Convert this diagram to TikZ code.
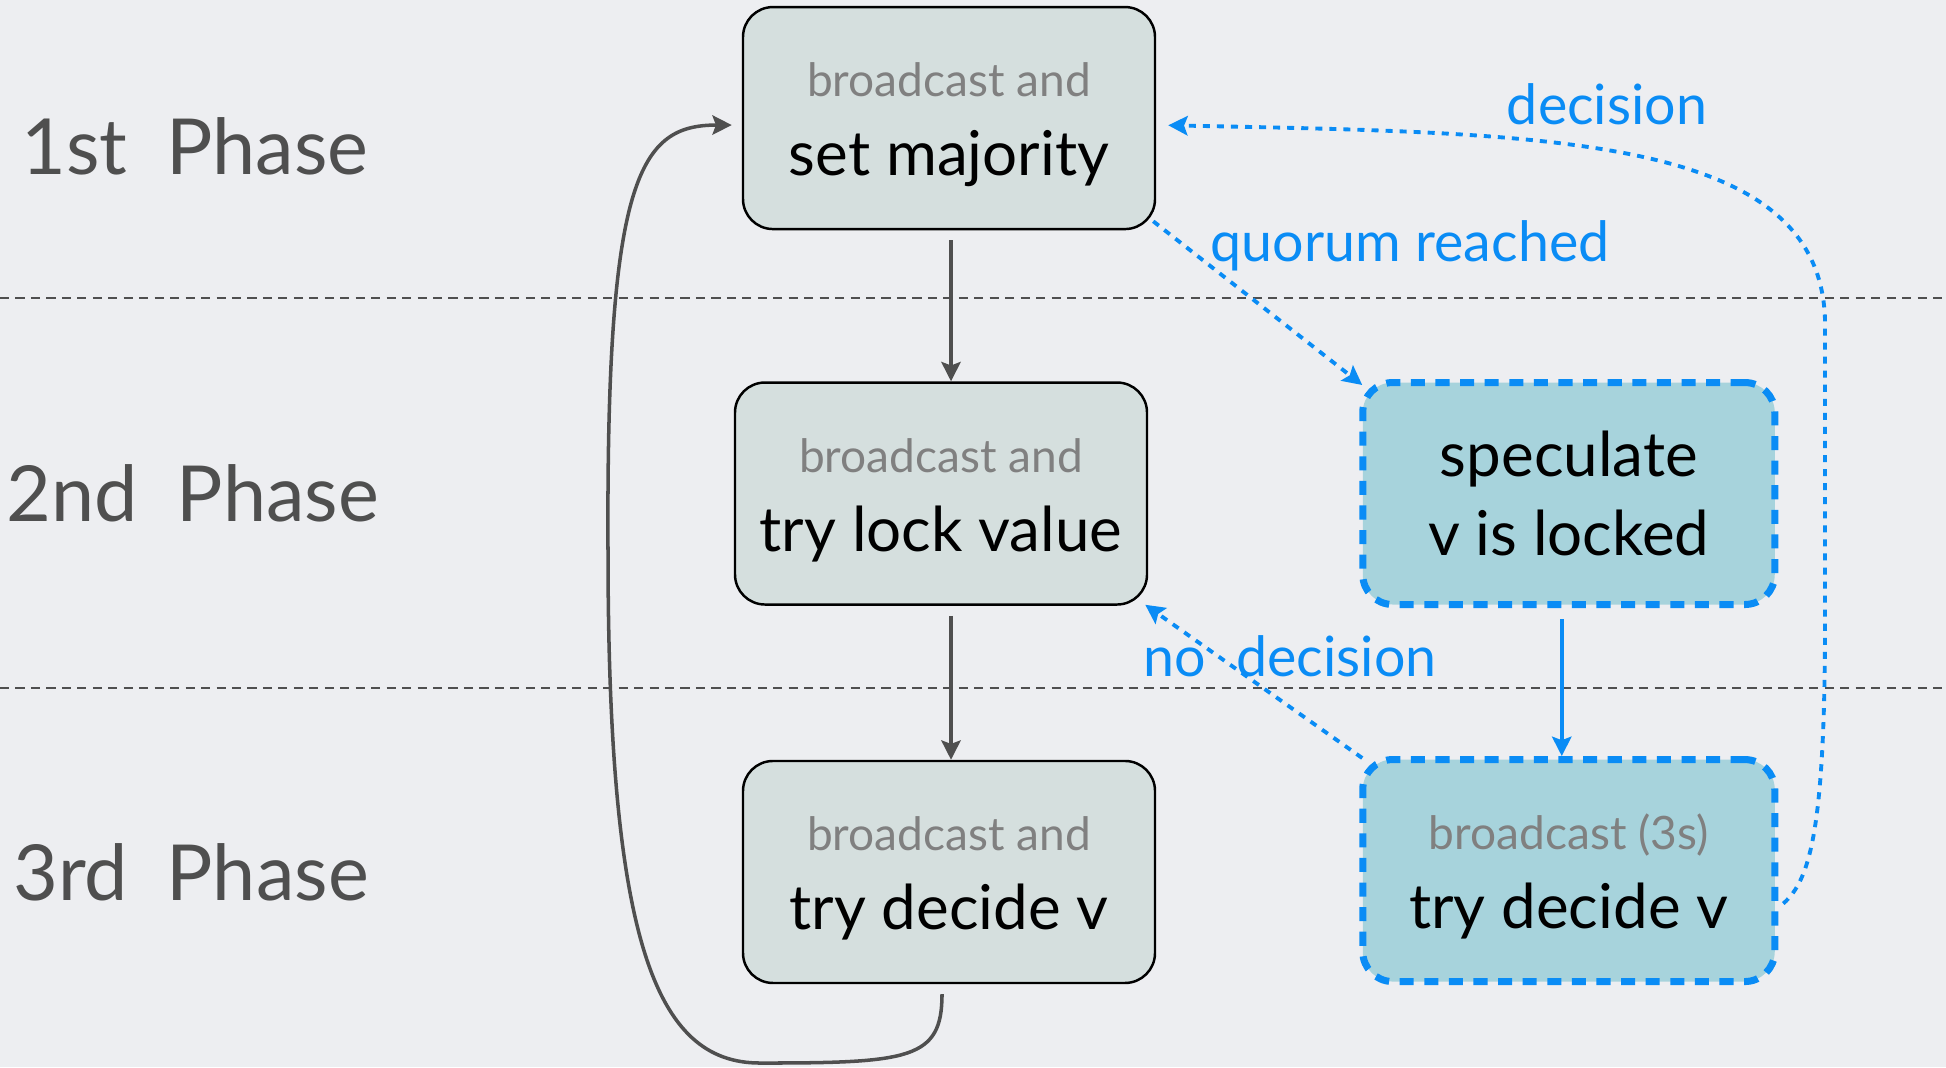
\documentclass[tikz,border=0pt]{standalone}
\usepackage{fontspec}
\setmainfont{Lato}
\usepackage{tikz}
\usetikzlibrary{positioning,arrows.meta}
\definecolor{slide}{HTML}{EDEEF1}
\definecolor{boxgray}{HTML}{D5DFDE}
\definecolor{boxblue}{HTML}{A7D3DC}
\definecolor{linkblue}{HTML}{0A8CF5}
\definecolor{ink}{HTML}{4F4F4F}
\definecolor{note}{HTML}{808080}
\newcommand{\bigline}{\fontsize{17.6}{22.5}\selectfont}
\newcommand{\smallline}{\color{note}\fontsize{13.1}{15}\selectfont\rule{0pt}{13.5pt}}
\tikzset{
  task/.style={draw=black,line width=0.7pt,fill=boxgray,rounded corners=0.3cm,
    minimum width=4.12cm,minimum height=2.22cm,align=center,font=\bigline},
  guessbox/.style={task,draw=linkblue,fill=boxblue,line width=2pt,
    dash pattern=on 4pt off 3pt},
  phase/.style={anchor=base,text=ink,font=\fontsize{22}{26}\selectfont},
  lane/.style={draw=ink,line width=0.8pt,dash pattern=on 2.6pt off 1.8pt},
  flow/.style={draw=ink,line width=1pt,-{Stealth[length=5.5pt,width=5.5pt,inset=1pt]}},
  hint/.style={draw=linkblue,line width=1.1pt,dash pattern=on 2pt off 2pt,
    -{Stealth[length=5.5pt,width=5.5pt,inset=1pt]}},
  push/.style={hint,solid},
  cue/.style={anchor=base,text=linkblue,font=\fontsize{15.8}{18}\selectfont}
}
\begin{document}
\begin{tikzpicture}
  \useasboundingbox (0,0) rectangle (19.46,-10.67);
  \fill[slide] (0,0) rectangle (19.46,-10.67);

  % phase lanes
  \draw[lane] (0,-2.98) -- (19.46,-2.98);
  \draw[lane] (0,-6.88) -- (19.46,-6.88);
  \node[phase] (p1) at (1.95,-1.74) {1st\hspace{0.5em}Phase};
  \node[phase] (p2) at (1.93,-5.21) {2nd\hspace{0.5em}Phase};
  \node[phase] (p3) at (1.91,-9.00) {3rd\hspace{0.5em}Phase};

  % boxes
  \node[task] (lock) at (9.41,-4.935) {{\smallline broadcast and}\\try lock value};
  \node[task,above=1.51cm of lock,xshift=0.08cm] (major) {{\smallline broadcast and}\\set majority};
  \node[task,below=1.54cm of lock,xshift=0.08cm] (decide) {{\smallline broadcast and}\\try decide v};
  \node[guessbox,right=2.11cm of lock] (guess) {speculate\\v is locked};
  \node[guessbox,below=1.48cm of guess] (fast) {{\smallline broadcast (3s)}\\try decide v};

  % normal path
  \draw[flow,shorten <=0.1cm] ([xshift=0.02cm]major.south) -- ([xshift=0.02cm]major.south |- lock.north);
  \draw[flow,shorten <=0.1cm] ([xshift=0.1cm]lock.south) -- ([xshift=0.1cm]lock.south |- decide.north);
  \draw[flow,shorten <=0.1cm,shorten >=0.1cm] ([xshift=-0.07cm]decide.south)
    .. controls +(0,-0.75) and (9.1,-10.63) .. (7.6,-10.63)
    .. controls (6.55,-10.63) and (6.08,-9.4) .. (6.08,-5.5)
    .. controls (6.06,-1.75) and (6.4,-1.25) .. ([yshift=-0.07cm]major.west);

  % fast path
  \draw[hint] ([shift={(-0.03,0.09)}]major.south east) -- ([shift={(0.03,-0.06)}]guess.north west);
  \draw[push,shorten <=0.11cm] ([xshift=-0.07cm]guess.south) -- ([xshift=-0.07cm]guess.south |- fast.north);
  \draw[hint] ([shift={(0.03,-0.02)}]fast.north west) -- ([shift={(-0.03,0.01)}]lock.south east);
  \draw[hint,shorten >=0.12cm] ([shift={(0.05,-0.33)}]fast.east)
    .. controls (18.1,-8.8) and (18.25,-8.3) .. (18.25,-6.2)
    -- (18.25,-3.2)
    .. controls (18.2,-1.35) and (15.5,-1.33) .. ([yshift=-0.07cm]major.east);

  \node[cue] (q) at (14.1,-2.61) {quorum reached};
  \node[cue] (d) at (16.07,-1.24) {decision};
  \node[cue] (n) at (12.9,-6.76) {no\hspace{0.55em}decision};
\end{tikzpicture}
\end{document}
